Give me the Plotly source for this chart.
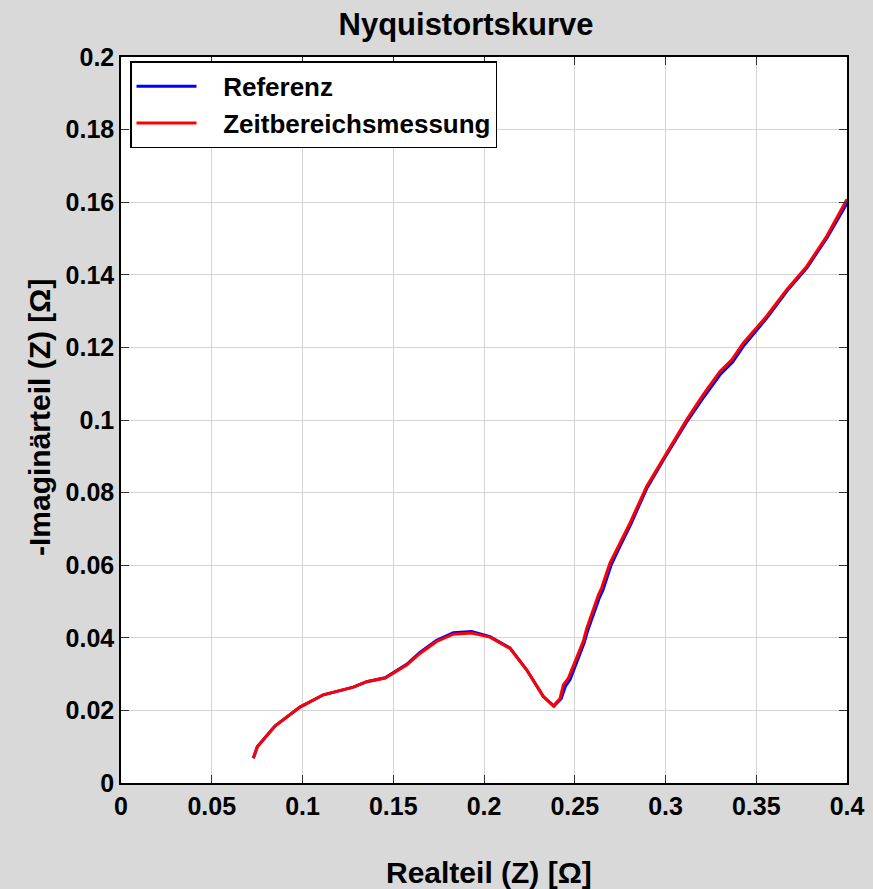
import plotly.graph_objects as go

# Zeitbereichsmessung (red)
zeit_re = [0.0729, 0.0751, 0.0848, 0.0986, 0.1115, 0.1280, 0.1354, 0.1455, 0.1574, 0.1647,
           0.1739, 0.1831, 0.1932, 0.2033, 0.2143, 0.2235, 0.2327, 0.2382, 0.2419, 0.2437,
           0.2465, 0.2511, 0.2547, 0.2566, 0.2630, 0.2648, 0.2694, 0.2749, 0.2804, 0.2896,
           0.2988, 0.3117, 0.3208, 0.3300, 0.3365, 0.3429, 0.3557, 0.3668, 0.3778, 0.3888, 0.4000]
zeit_im = [0.0068, 0.0100, 0.0157, 0.0209, 0.0243, 0.0264, 0.0279, 0.0289, 0.0325, 0.0357,
           0.0390, 0.0410, 0.0413, 0.0402, 0.0371, 0.0312, 0.0238, 0.0212, 0.0233, 0.0270,
           0.0289, 0.0348, 0.0390, 0.0426, 0.0518, 0.0537, 0.0606, 0.0661, 0.0716, 0.0817,
           0.0895, 0.1001, 0.1070, 0.1134, 0.1166, 0.1212, 0.1286, 0.1359, 0.1423, 0.1506, 0.1608]

# Referenz (blue)
ref_re = [0.0729, 0.0751, 0.0848, 0.0986, 0.1115, 0.1280, 0.1354, 0.1455, 0.1574, 0.1647,
          0.1739, 0.1831, 0.1932, 0.2033, 0.2143, 0.2235, 0.2327, 0.2386, 0.2425, 0.2448,
          0.2475, 0.2518, 0.2552, 0.2572, 0.2636, 0.2655, 0.2700, 0.2753, 0.2808, 0.2898,
          0.2990, 0.3120, 0.3212, 0.3304, 0.3370, 0.3433, 0.3560, 0.3670, 0.3780, 0.3890, 0.4000]
ref_im = [0.0068, 0.0100, 0.0157, 0.0209, 0.0243, 0.0264, 0.0279, 0.0290, 0.0327, 0.0360,
          0.0393, 0.0414, 0.0417, 0.0403, 0.0372, 0.0312, 0.0238, 0.0212, 0.0232, 0.0266,
          0.0286, 0.0343, 0.0386, 0.0421, 0.0511, 0.0531, 0.0600, 0.0656, 0.0712, 0.0813,
          0.0891, 0.0997, 0.1064, 0.1127, 0.1160, 0.1206, 0.1282, 0.1356, 0.1420, 0.1502, 0.1597]

x_ticks = [0, 0.05, 0.1, 0.15, 0.2, 0.25, 0.3, 0.35, 0.4]
x_labels = ["0", "0.05", "0.1", "0.15", "0.2", "0.25", "0.3", "0.35", "0.4"]
y_ticks = [0, 0.02, 0.04, 0.06, 0.08, 0.1, 0.12, 0.14, 0.16, 0.18, 0.2]
y_labels = ["0", "0.02", "0.04", "0.06", "0.08", "0.1", "0.12", "0.14", "0.16", "0.18", "0.2"]

FONT = "Liberation Sans, Arial, sans-serif"
PAD = "\u00a0\u00a0\u00a0"

fig = go.Figure()
fig.add_trace(go.Scatter(x=ref_re, y=ref_im, mode="lines", name=PAD + "Referenz",
                         line=dict(color="#0000ff", width=3), legendgroup="a"))
fig.add_trace(go.Scatter(x=zeit_re, y=zeit_im, mode="lines", name=PAD + "Zeitbereichsmessung",
                         line=dict(color="#ff0000", width=3), legendgroup="b"))

axis_common = dict(
    showline=True, linecolor="black", linewidth=1.5, mirror="ticks",
    ticks="inside", ticklen=8, tickwidth=1.2, tickcolor="#333333",
    showgrid=True, gridcolor="#d4d4d4", gridwidth=1, zeroline=False,
    automargin=False,
    tickfont=dict(family=FONT, size=25, color="black", weight="bold"),
)

fig.update_layout(
    width=873, height=889,
    paper_bgcolor="#d9d9d9", plot_bgcolor="white",
    margin=dict(l=121, r=26, t=57, b=106, autoexpand=False),
    font=dict(family=FONT, color="black"),
    title=dict(text="<b>Nyquistortskurve</b>", x=466/873, xanchor="center",
               y=1 - 24/889, yanchor="middle",
               font=dict(family=FONT, size=31, color="black")),
    xaxis=dict(range=[0, 0.4], tickvals=x_ticks, ticktext=x_labels, **axis_common),
    yaxis=dict(range=[0, 0.2], tickvals=y_ticks, ticktext=y_labels, **axis_common),
    annotations=[
        dict(text="<b>Realteil (Z) [Ω]</b>", xref="paper", yref="paper",
             x=(489 - 121) / 726, y=(783 - 872) / 726, xanchor="center", yanchor="middle",
             showarrow=False, font=dict(family=FONT, size=30, color="black")),
        dict(text="<b>-Imaginärteil (Z) [Ω]</b>", xref="paper", yref="paper",
             x=(39 - 121) / 726, y=(783 - 418) / 726, xanchor="center", yanchor="middle",
             textangle=-90, showarrow=False, font=dict(family=FONT, size=30, color="black")),
    ],
    showlegend=True,
    legend=dict(x=9/726, y=0.994, xanchor="left", yanchor="top",
                bgcolor="white", bordercolor="black", borderwidth=1.5,
                font=dict(family=FONT, size=26, color="black", weight="bold"),
                itemwidth=60, tracegroupgap=0),
)

fig.write_html("out.html", config={"displayModeBar": False},
               post_script="document.body.style.margin='0';document.body.style.overflow='hidden';")
